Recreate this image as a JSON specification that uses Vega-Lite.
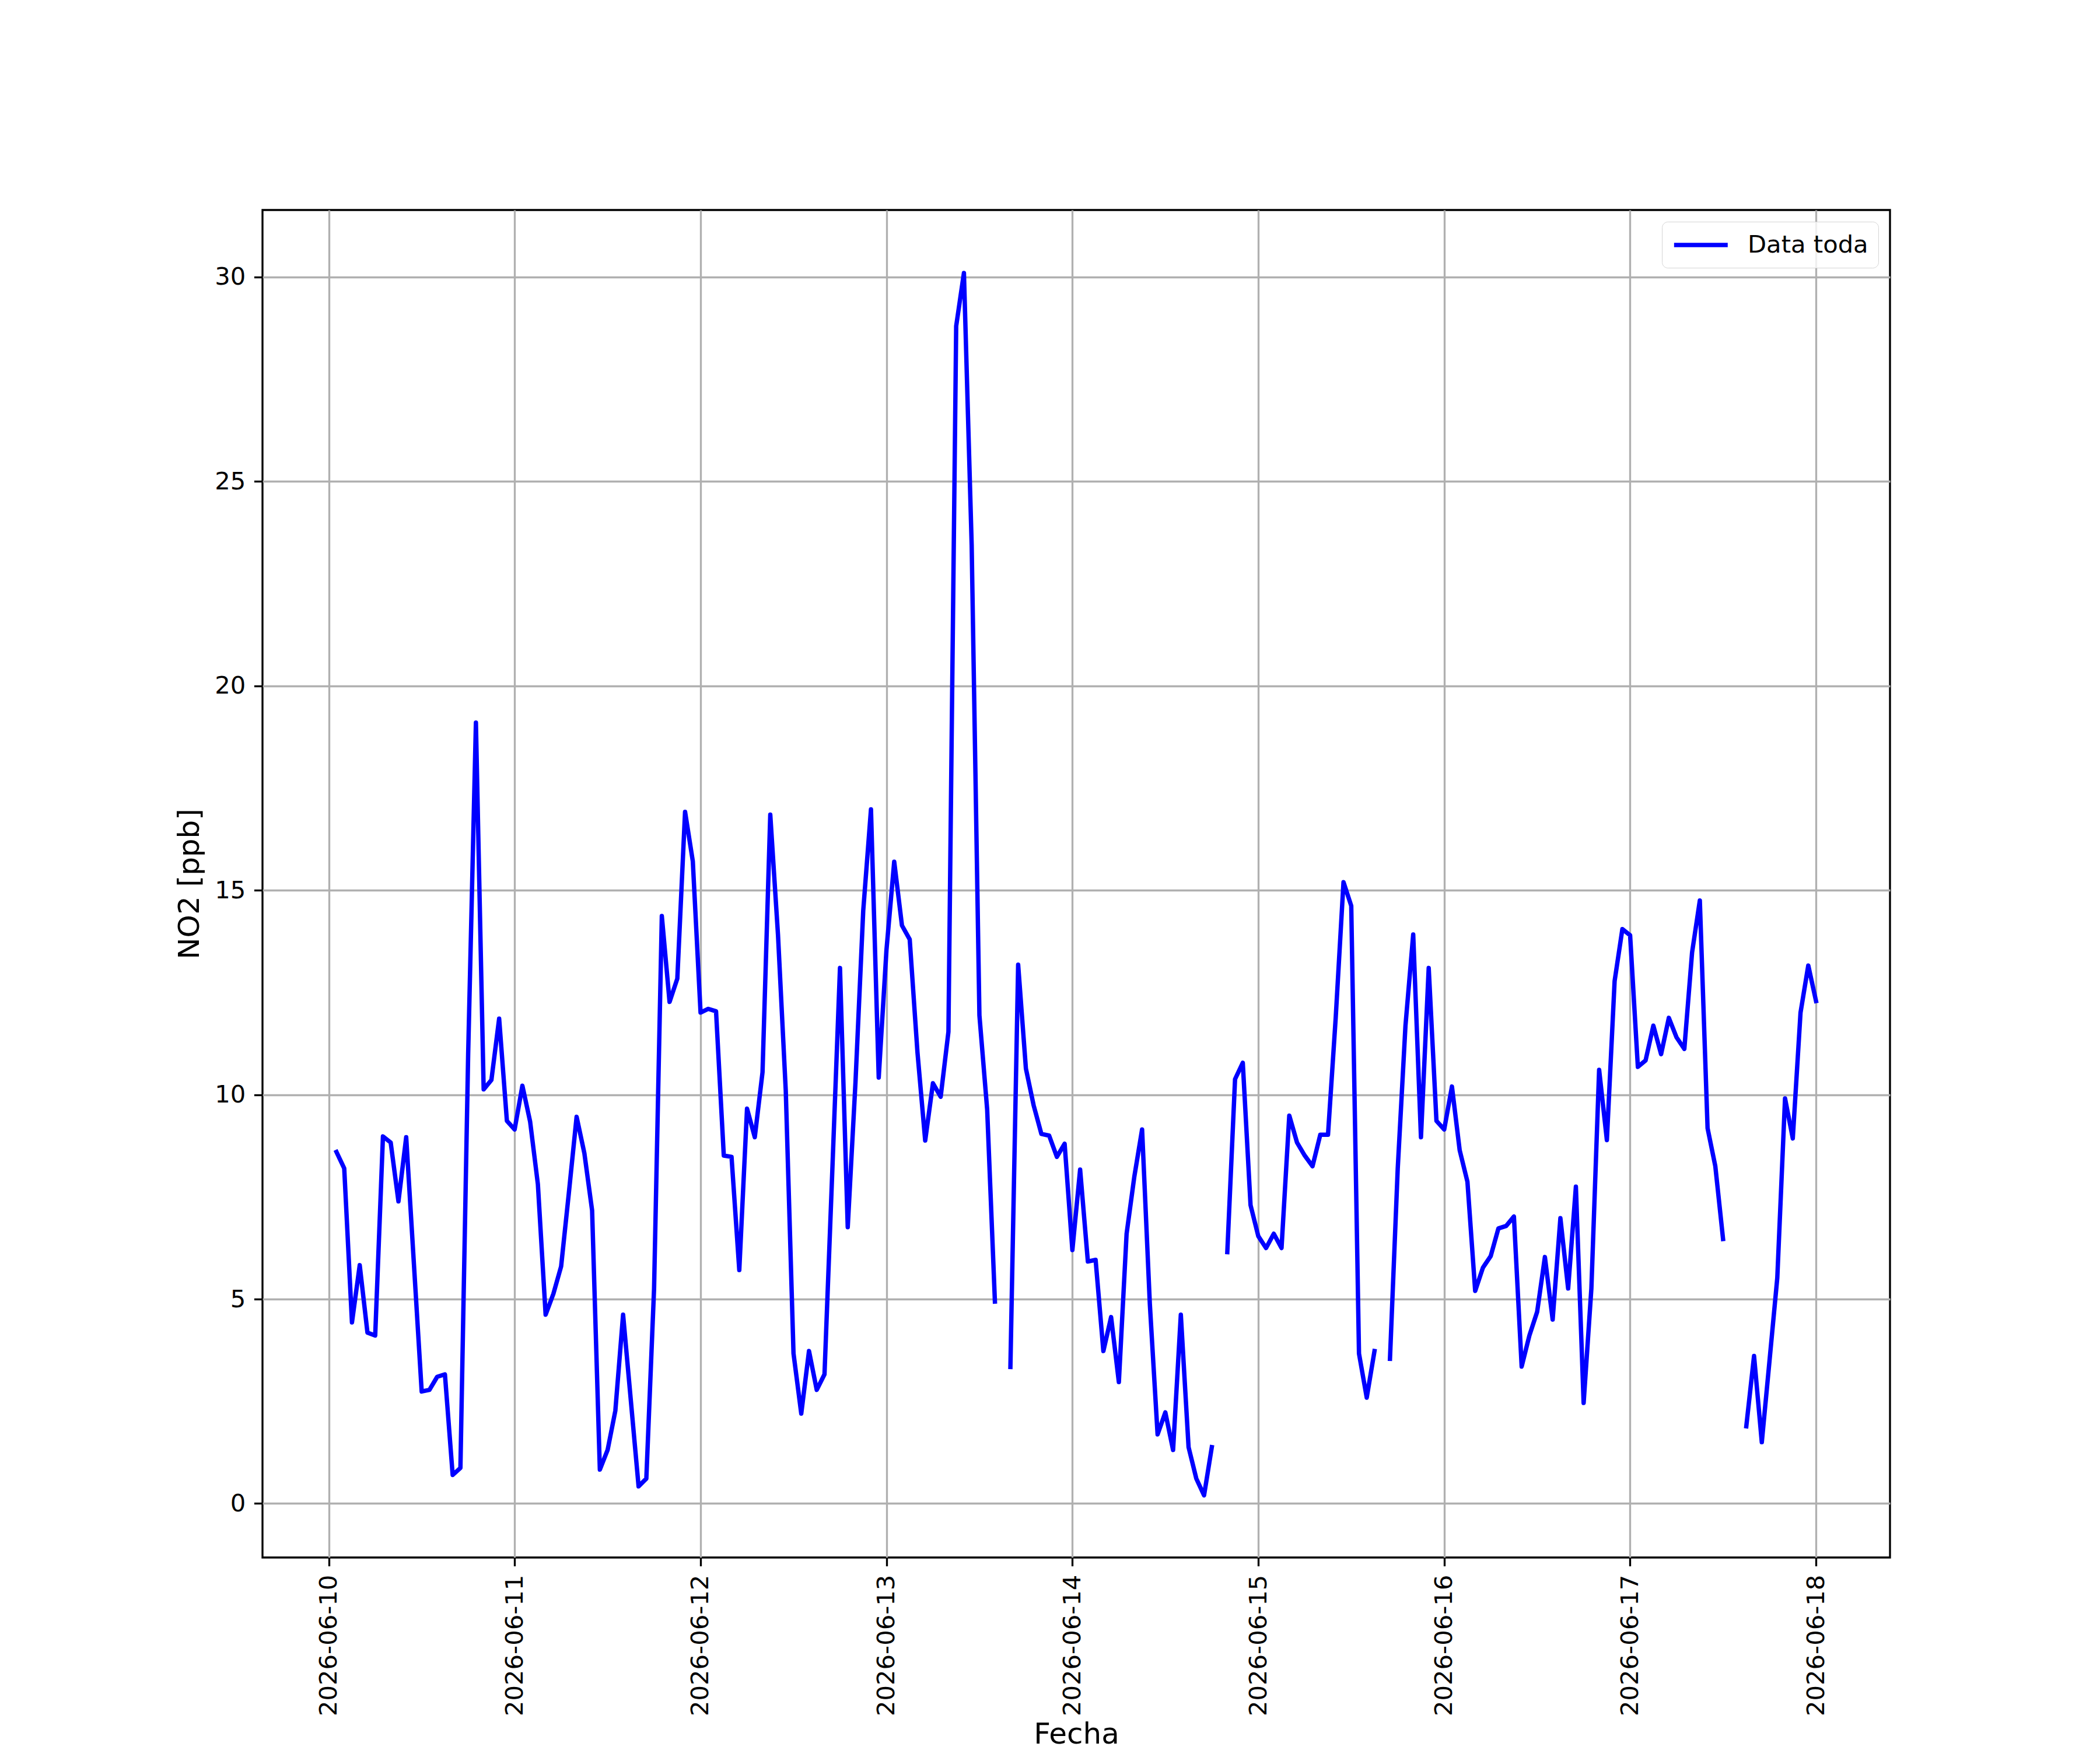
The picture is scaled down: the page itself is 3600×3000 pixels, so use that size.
{
  "$schema": "https://vega.github.io/schema/vega-lite/v6.json",
  "autosize": {"type": "none"},
  "padding": {"left": 450, "top": 360, "right": 360, "bottom": 330},
  "width": 2790,
  "height": 2310,
  "background": "white",
  "config": {
    "view": {"stroke": "black", "strokeWidth": 3.33},
    "font": "DejaVu Sans",
    "axis": {
      "labelFont": "DejaVu Sans",
      "titleFont": "DejaVu Sans",
      "labelFontSize": 41.7,
      "titleFontSize": 50,
      "titleFontWeight": "normal",
      "labelColor": "black",
      "titleColor": "black",
      "tickColor": "black",
      "tickSize": 14.6,
      "tickWidth": 3.33,
      "labelPadding": 14.6,
      "labelLimit": 0,
      "domain": false,
      "gridColor": "#b0b0b0",
      "gridWidth": 3.33,
      "gridOpacity": 1
    },
    "legend": {
      "labelFont": "DejaVu Sans",
      "labelFontSize": 41.7,
      "labelColor": "black",
      "labelLimit": 0
    }
  },
  "data": {
    "values": [
      {"t": "2026-06-10T01:00", "v": 8.6},
      {"t": "2026-06-10T02:00", "v": 8.2},
      {"t": "2026-06-10T03:00", "v": 4.43},
      {"t": "2026-06-10T04:00", "v": 5.83},
      {"t": "2026-06-10T05:00", "v": 4.18},
      {"t": "2026-06-10T06:00", "v": 4.11},
      {"t": "2026-06-10T07:00", "v": 8.98},
      {"t": "2026-06-10T08:00", "v": 8.83},
      {"t": "2026-06-10T09:00", "v": 7.39},
      {"t": "2026-06-10T10:00", "v": 8.96},
      {"t": "2026-06-10T11:00", "v": 5.85},
      {"t": "2026-06-10T12:00", "v": 2.74},
      {"t": "2026-06-10T13:00", "v": 2.78},
      {"t": "2026-06-10T14:00", "v": 3.1},
      {"t": "2026-06-10T15:00", "v": 3.16},
      {"t": "2026-06-10T16:00", "v": 0.7},
      {"t": "2026-06-10T17:00", "v": 0.87},
      {"t": "2026-06-10T18:00", "v": 11.0},
      {"t": "2026-06-10T19:00", "v": 19.1},
      {"t": "2026-06-10T20:00", "v": 10.13},
      {"t": "2026-06-10T21:00", "v": 10.36},
      {"t": "2026-06-10T22:00", "v": 11.86},
      {"t": "2026-06-10T23:00", "v": 9.36},
      {"t": "2026-06-11T00:00", "v": 9.15},
      {"t": "2026-06-11T01:00", "v": 10.22},
      {"t": "2026-06-11T02:00", "v": 9.34},
      {"t": "2026-06-11T03:00", "v": 7.81},
      {"t": "2026-06-11T04:00", "v": 4.62},
      {"t": "2026-06-11T05:00", "v": 5.13},
      {"t": "2026-06-11T06:00", "v": 5.8},
      {"t": "2026-06-11T07:00", "v": 7.6},
      {"t": "2026-06-11T08:00", "v": 9.46},
      {"t": "2026-06-11T09:00", "v": 8.57},
      {"t": "2026-06-11T10:00", "v": 7.17},
      {"t": "2026-06-11T11:00", "v": 0.83},
      {"t": "2026-06-11T12:00", "v": 1.31},
      {"t": "2026-06-11T13:00", "v": 2.27},
      {"t": "2026-06-11T14:00", "v": 4.62},
      {"t": "2026-06-11T15:00", "v": 2.52},
      {"t": "2026-06-11T16:00", "v": 0.42},
      {"t": "2026-06-11T17:00", "v": 0.61},
      {"t": "2026-06-11T18:00", "v": 5.26},
      {"t": "2026-06-11T19:00", "v": 14.37},
      {"t": "2026-06-11T20:00", "v": 12.27},
      {"t": "2026-06-11T21:00", "v": 12.84},
      {"t": "2026-06-11T22:00", "v": 16.92},
      {"t": "2026-06-11T23:00", "v": 15.71},
      {"t": "2026-06-12T00:00", "v": 12.01},
      {"t": "2026-06-12T01:00", "v": 12.1},
      {"t": "2026-06-12T02:00", "v": 12.04},
      {"t": "2026-06-12T03:00", "v": 8.51},
      {"t": "2026-06-12T04:00", "v": 8.48},
      {"t": "2026-06-12T05:00", "v": 5.71},
      {"t": "2026-06-12T06:00", "v": 9.66},
      {"t": "2026-06-12T07:00", "v": 8.96},
      {"t": "2026-06-12T08:00", "v": 10.55},
      {"t": "2026-06-12T09:00", "v": 16.85},
      {"t": "2026-06-12T10:00", "v": 13.9},
      {"t": "2026-06-12T11:00", "v": 10.1},
      {"t": "2026-06-12T12:00", "v": 3.67},
      {"t": "2026-06-12T13:00", "v": 2.2},
      {"t": "2026-06-12T14:00", "v": 3.73},
      {"t": "2026-06-12T15:00", "v": 2.78},
      {"t": "2026-06-12T16:00", "v": 3.16},
      {"t": "2026-06-12T17:00", "v": 8.1},
      {"t": "2026-06-12T18:00", "v": 13.1},
      {"t": "2026-06-12T19:00", "v": 6.76},
      {"t": "2026-06-12T20:00", "v": 10.3},
      {"t": "2026-06-12T21:00", "v": 14.5},
      {"t": "2026-06-12T22:00", "v": 16.98},
      {"t": "2026-06-12T23:00", "v": 10.42},
      {"t": "2026-06-13T00:00", "v": 13.54},
      {"t": "2026-06-13T01:00", "v": 15.7},
      {"t": "2026-06-13T02:00", "v": 14.14},
      {"t": "2026-06-13T03:00", "v": 13.8},
      {"t": "2026-06-13T04:00", "v": 11.04},
      {"t": "2026-06-13T05:00", "v": 8.88},
      {"t": "2026-06-13T06:00", "v": 10.28},
      {"t": "2026-06-13T07:00", "v": 9.95},
      {"t": "2026-06-13T08:00", "v": 11.54},
      {"t": "2026-06-13T09:00", "v": 28.8},
      {"t": "2026-06-13T10:00", "v": 30.1},
      {"t": "2026-06-13T11:00", "v": 23.44},
      {"t": "2026-06-13T12:00", "v": 11.94},
      {"t": "2026-06-13T13:00", "v": 9.64},
      {"t": "2026-06-13T14:00", "v": 4.94},
      {"t": "2026-06-13T15:00", "v": null},
      {"t": "2026-06-13T16:00", "v": 3.34},
      {"t": "2026-06-13T17:00", "v": 13.18},
      {"t": "2026-06-13T18:00", "v": 10.64},
      {"t": "2026-06-13T19:00", "v": 9.74},
      {"t": "2026-06-13T20:00", "v": 9.04},
      {"t": "2026-06-13T21:00", "v": 9.0},
      {"t": "2026-06-13T22:00", "v": 8.48},
      {"t": "2026-06-13T23:00", "v": 8.8},
      {"t": "2026-06-14T00:00", "v": 6.2},
      {"t": "2026-06-14T01:00", "v": 8.17},
      {"t": "2026-06-14T02:00", "v": 5.92},
      {"t": "2026-06-14T03:00", "v": 5.96},
      {"t": "2026-06-14T04:00", "v": 3.73},
      {"t": "2026-06-14T05:00", "v": 4.56},
      {"t": "2026-06-14T06:00", "v": 2.97},
      {"t": "2026-06-14T07:00", "v": 6.6},
      {"t": "2026-06-14T08:00", "v": 8.0},
      {"t": "2026-06-14T09:00", "v": 9.15},
      {"t": "2026-06-14T10:00", "v": 4.88},
      {"t": "2026-06-14T11:00", "v": 1.69},
      {"t": "2026-06-14T12:00", "v": 2.23},
      {"t": "2026-06-14T13:00", "v": 1.31},
      {"t": "2026-06-14T14:00", "v": 4.62},
      {"t": "2026-06-14T15:00", "v": 1.38},
      {"t": "2026-06-14T16:00", "v": 0.61},
      {"t": "2026-06-14T17:00", "v": 0.2},
      {"t": "2026-06-14T18:00", "v": 1.38},
      {"t": "2026-06-14T19:00", "v": null},
      {"t": "2026-06-14T20:00", "v": 6.15},
      {"t": "2026-06-14T21:00", "v": 10.38},
      {"t": "2026-06-14T22:00", "v": 10.78},
      {"t": "2026-06-14T23:00", "v": 7.3},
      {"t": "2026-06-15T00:00", "v": 6.54},
      {"t": "2026-06-15T01:00", "v": 6.25},
      {"t": "2026-06-15T02:00", "v": 6.6},
      {"t": "2026-06-15T03:00", "v": 6.25},
      {"t": "2026-06-15T04:00", "v": 9.49},
      {"t": "2026-06-15T05:00", "v": 8.83},
      {"t": "2026-06-15T06:00", "v": 8.51},
      {"t": "2026-06-15T07:00", "v": 8.25},
      {"t": "2026-06-15T08:00", "v": 9.02},
      {"t": "2026-06-15T09:00", "v": 9.02},
      {"t": "2026-06-15T10:00", "v": 11.9},
      {"t": "2026-06-15T11:00", "v": 15.2},
      {"t": "2026-06-15T12:00", "v": 14.62},
      {"t": "2026-06-15T13:00", "v": 3.67},
      {"t": "2026-06-15T14:00", "v": 2.59},
      {"t": "2026-06-15T15:00", "v": 3.73},
      {"t": "2026-06-15T16:00", "v": null},
      {"t": "2026-06-15T17:00", "v": 3.54},
      {"t": "2026-06-15T18:00", "v": 8.19},
      {"t": "2026-06-15T19:00", "v": 11.69},
      {"t": "2026-06-15T20:00", "v": 13.92},
      {"t": "2026-06-15T21:00", "v": 8.96},
      {"t": "2026-06-15T22:00", "v": 13.1},
      {"t": "2026-06-15T23:00", "v": 9.36},
      {"t": "2026-06-16T00:00", "v": 9.15},
      {"t": "2026-06-16T01:00", "v": 10.2},
      {"t": "2026-06-16T02:00", "v": 8.64},
      {"t": "2026-06-16T03:00", "v": 7.87},
      {"t": "2026-06-16T04:00", "v": 5.2},
      {"t": "2026-06-16T05:00", "v": 5.77},
      {"t": "2026-06-16T06:00", "v": 6.05},
      {"t": "2026-06-16T07:00", "v": 6.73},
      {"t": "2026-06-16T08:00", "v": 6.79},
      {"t": "2026-06-16T09:00", "v": 7.02},
      {"t": "2026-06-16T10:00", "v": 3.35},
      {"t": "2026-06-16T11:00", "v": 4.11},
      {"t": "2026-06-16T12:00", "v": 4.69},
      {"t": "2026-06-16T13:00", "v": 6.03},
      {"t": "2026-06-16T14:00", "v": 4.5},
      {"t": "2026-06-16T15:00", "v": 6.98},
      {"t": "2026-06-16T16:00", "v": 5.26},
      {"t": "2026-06-16T17:00", "v": 7.75},
      {"t": "2026-06-16T18:00", "v": 2.46},
      {"t": "2026-06-16T19:00", "v": 5.26},
      {"t": "2026-06-16T20:00", "v": 10.61},
      {"t": "2026-06-16T21:00", "v": 8.89},
      {"t": "2026-06-16T22:00", "v": 12.78},
      {"t": "2026-06-16T23:00", "v": 14.05},
      {"t": "2026-06-17T00:00", "v": 13.9},
      {"t": "2026-06-17T01:00", "v": 10.68},
      {"t": "2026-06-17T02:00", "v": 10.84},
      {"t": "2026-06-17T03:00", "v": 11.69},
      {"t": "2026-06-17T04:00", "v": 10.99},
      {"t": "2026-06-17T05:00", "v": 11.88},
      {"t": "2026-06-17T06:00", "v": 11.4},
      {"t": "2026-06-17T07:00", "v": 11.12},
      {"t": "2026-06-17T08:00", "v": 13.48},
      {"t": "2026-06-17T09:00", "v": 14.75},
      {"t": "2026-06-17T10:00", "v": 9.18},
      {"t": "2026-06-17T11:00", "v": 8.25},
      {"t": "2026-06-17T12:00", "v": 6.47},
      {"t": "2026-06-17T13:00", "v": null},
      {"t": "2026-06-17T14:00", "v": null},
      {"t": "2026-06-17T15:00", "v": 1.89},
      {"t": "2026-06-17T16:00", "v": 3.61},
      {"t": "2026-06-17T17:00", "v": 1.5},
      {"t": "2026-06-17T18:00", "v": 3.5},
      {"t": "2026-06-17T19:00", "v": 5.52},
      {"t": "2026-06-17T20:00", "v": 9.91},
      {"t": "2026-06-17T21:00", "v": 8.93},
      {"t": "2026-06-17T22:00", "v": 12.01},
      {"t": "2026-06-17T23:00", "v": 13.16},
      {"t": "2026-06-18T00:00", "v": 12.29}
    ]
  },
  "mark": {
    "type": "line",
    "strokeWidth": 7.5,
    "strokeCap": "square",
    "strokeJoin": "round",
    "invalid": "break-paths-filter-domains"
  },
  "encoding": {
    "x": {
      "field": "t",
      "type": "temporal",
      "title": "Fecha",
      "scale": {
        "domain": [
          {"year": 2026, "month": 6, "date": 9, "hours": 15, "minutes": 27},
          {"year": 2026, "month": 6, "date": 18, "hours": 9, "minutes": 33}
        ]
      },
      "axis": {
        "values": [
          {"year": 2026, "month": 6, "date": 10},
          {"year": 2026, "month": 6, "date": 11},
          {"year": 2026, "month": 6, "date": 12},
          {"year": 2026, "month": 6, "date": 13},
          {"year": 2026, "month": 6, "date": 14},
          {"year": 2026, "month": 6, "date": 15},
          {"year": 2026, "month": 6, "date": 16},
          {"year": 2026, "month": 6, "date": 17},
          {"year": 2026, "month": 6, "date": 18}
        ],
        "format": "%Y-%m-%d",
        "labelAngle": 270,
        "labelAlign": "right",
        "labelBaseline": "middle",
        "titleY": 318,
        "titleBaseline": "alphabetic"
      }
    },
    "y": {
      "field": "v",
      "type": "quantitative",
      "title": "NO2 [ppb]",
      "scale": {"domain": [-1.32, 31.64], "nice": false, "zero": false},
      "axis": {
        "values": [0, 5, 10, 15, 20, 25, 30],
        "format": "d",
        "titleAngle": 270,
        "titleX": -125,
        "titleY": 1155,
        "titleAlign": "center",
        "titleBaseline": "middle"
      }
    },
    "color": {
      "datum": "Data toda",
      "type": "nominal",
      "scale": {"domain": ["Data toda"], "range": ["#0000ff"]},
      "legend": {
        "title": null,
        "orient": "top-right",
        "offset": 20,
        "padding": 17,
        "fillColor": "rgba(255,255,255,0.8)",
        "strokeColor": "#d4d4d4",
        "cornerRadius": 10,
        "symbolType": "M-1,0H3.8",
        "symbolSize": 1469,
        "symbolStrokeWidth": 7.5,
        "labelOffset": 84
      }
    }
  }
}
